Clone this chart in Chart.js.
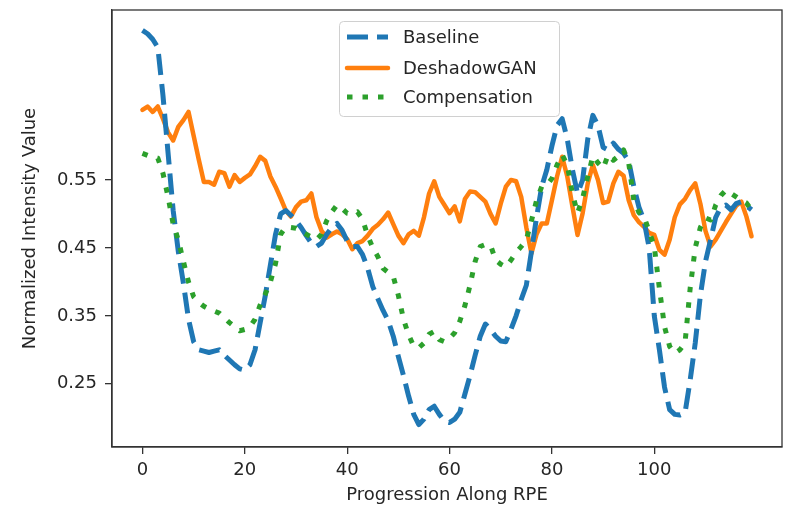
<!DOCTYPE html>
<html>
<head>
<meta charset="utf-8">
<script src="https://cdn.jsdelivr.net/npm/chart.js"></script>
<style>
  html, body { margin: 0; padding: 0; background: #fff; }
</style>
</head>
<body>
<canvas id="myChart" width="785" height="512"></canvas>
<script>
// x positions along the RPE (one per sample)
const positions = Array.from({ length: 120 }, (_, i) => i);

const baseline = [
  0.770, 0.765, 0.757, 0.745, 0.675, 0.590, 0.505, 0.445, 0.398, 0.345,
  0.312, 0.300, 0.298, 0.296, 0.298, 0.300, 0.292, 0.285, 0.278, 0.272,
  0.270, 0.278, 0.300, 0.340, 0.380, 0.425, 0.470, 0.500, 0.505, 0.498,
  0.490, 0.480, 0.468, 0.457, 0.452, 0.457, 0.470, 0.480, 0.486, 0.476,
  0.460, 0.452, 0.452, 0.440, 0.420, 0.393, 0.375, 0.358, 0.343, 0.320,
  0.290, 0.262, 0.232, 0.205, 0.190, 0.198, 0.212, 0.217, 0.205, 0.195,
  0.193, 0.198, 0.208, 0.235, 0.262, 0.292, 0.320, 0.338, 0.330, 0.320,
  0.313, 0.312, 0.330, 0.350, 0.374, 0.395, 0.445, 0.495, 0.540, 0.565,
  0.600, 0.630, 0.640, 0.610, 0.565, 0.530, 0.550, 0.610, 0.645, 0.630,
  0.598, 0.594, 0.604, 0.595, 0.589, 0.578, 0.540, 0.510, 0.490, 0.450,
  0.350, 0.300, 0.245, 0.212, 0.205, 0.204, 0.207, 0.255, 0.310, 0.380,
  0.430, 0.462, 0.495, 0.510, 0.513, 0.506, 0.515, 0.518, 0.512, 0.506
];

const deshadowGAN = [
  0.653, 0.658, 0.650, 0.658, 0.640, 0.620, 0.608, 0.628, 0.638, 0.650,
  0.615, 0.580, 0.547, 0.547, 0.543, 0.562, 0.560, 0.540, 0.557, 0.547,
  0.553, 0.558, 0.570, 0.584, 0.578, 0.555, 0.540, 0.523, 0.505, 0.496,
  0.510, 0.518, 0.520, 0.530, 0.495, 0.475, 0.465, 0.470, 0.474, 0.470,
  0.463, 0.448, 0.457, 0.460, 0.468, 0.478, 0.484, 0.492, 0.502, 0.485,
  0.468, 0.457, 0.470, 0.475, 0.468, 0.495, 0.530, 0.548, 0.525, 0.513,
  0.501, 0.511, 0.489, 0.522, 0.533, 0.532, 0.525, 0.518, 0.500, 0.486,
  0.515, 0.540, 0.550, 0.548, 0.525, 0.480, 0.442, 0.470, 0.486, 0.486,
  0.520, 0.555, 0.584, 0.555, 0.511, 0.469, 0.501, 0.545, 0.572, 0.550,
  0.516, 0.518, 0.545, 0.562, 0.556, 0.520, 0.498, 0.488, 0.481, 0.472,
  0.469, 0.447, 0.440, 0.462, 0.495, 0.514, 0.522, 0.535, 0.545, 0.515,
  0.475, 0.452, 0.462, 0.475, 0.488, 0.500, 0.512, 0.518, 0.496, 0.467
];

const compensation = [
  0.589, 0.586, 0.584, 0.582, 0.560, 0.525, 0.485, 0.462, 0.430, 0.400,
  0.378, 0.370, 0.364, 0.360, 0.357, 0.354, 0.347, 0.340, 0.334, 0.328,
  0.330, 0.334, 0.345, 0.366, 0.382, 0.400, 0.427, 0.470, 0.481, 0.480,
  0.479, 0.474, 0.470, 0.466, 0.462, 0.470, 0.490, 0.503, 0.513, 0.508,
  0.501, 0.500, 0.503, 0.492, 0.468, 0.450, 0.437, 0.420, 0.414, 0.408,
  0.380, 0.345, 0.322, 0.305, 0.303, 0.310, 0.323, 0.327, 0.315, 0.312,
  0.317, 0.325, 0.342, 0.365, 0.395, 0.430, 0.452, 0.455, 0.454, 0.432,
  0.426, 0.422, 0.432, 0.443, 0.452, 0.462, 0.490, 0.520, 0.540, 0.542,
  0.552, 0.572, 0.587, 0.572, 0.530, 0.501, 0.523, 0.555, 0.585, 0.575,
  0.567, 0.587, 0.579, 0.585, 0.594, 0.575, 0.520, 0.502, 0.496, 0.474,
  0.452, 0.390, 0.334, 0.305, 0.295, 0.300, 0.310, 0.390, 0.450, 0.480,
  0.494, 0.491, 0.513, 0.527, 0.535, 0.530, 0.525, 0.520, 0.516, 0.506
];

const xTicks = [0, 20, 40, 60, 80, 100];
const yTicks = [0.25, 0.35, 0.45, 0.55];
const yTickLabels = ['0.25', '0.35', '0.45', '0.55'];

const FONT = 'DejaVu Sans';
const INK = '#262626';

const toPoints = (vals) => vals.map((v, i) => ({ x: positions[i], y: v }));

const datasets = [
  {
    label: 'Baseline',
    data: toPoints(baseline),
    borderColor: '#1f77b4',
    borderWidth: 5,
    borderDash: [21, 9],
    borderCapStyle: 'butt',
    order: 1
  },
  {
    label: 'DeshadowGAN',
    data: toPoints(deshadowGAN),
    borderColor: '#ff7f0e',
    borderWidth: 4.5,
    borderCapStyle: 'round',
    order: 2
  },
  {
    label: 'Compensation',
    data: toPoints(compensation),
    borderColor: '#2ca02c',
    borderWidth: 5,
    borderDash: [5.5, 10],
    borderCapStyle: 'butt',
    order: 0
  }
];
datasets.forEach(d => {
  d.pointRadius = 0;
  d.tension = 0;
  d.fill = false;
  d.borderJoinStyle = 'round';
});

// full box frame + matplotlib-like legend
const framePlugin = {
  id: 'frame',
  afterDatasetsDraw(chart) {
    const { ctx, chartArea: a } = chart;
    ctx.save();
    ctx.strokeStyle = '#333';
    ctx.lineWidth = 1.3;
    ctx.strokeRect(a.left, a.top, a.right - a.left, a.bottom - a.top);
    ctx.restore();
  }
};

const legendPlugin = {
  id: 'mplLegend',
  afterDraw(chart) {
    const { ctx } = chart;
    const box = { x: 339.5, y: 21.5, w: 220, h: 95 };
    ctx.save();
    ctx.beginPath();
    ctx.roundRect(box.x, box.y, box.w, box.h, 4);
    ctx.fillStyle = 'rgba(255,255,255,0.85)';
    ctx.fill();
    ctx.strokeStyle = '#d0d0d0';
    ctx.lineWidth = 1;
    ctx.stroke();

    const rows = [37, 68, 97];
    chart.data.datasets.forEach((ds, i) => {
      const y = rows[i];
      ctx.beginPath();
      ctx.strokeStyle = ds.borderColor;
      ctx.lineWidth = ds.borderWidth;
      ctx.lineCap = ds.borderCapStyle;
      ctx.setLineDash(ds.borderDash || []);
      ctx.moveTo(347, y);
      ctx.lineTo(388, y);
      ctx.stroke();
      ctx.setLineDash([]);
      ctx.fillStyle = INK;
      ctx.font = '18px "' + FONT + '"';
      ctx.textBaseline = 'middle';
      ctx.textAlign = 'left';
      ctx.fillText(ds.label, 403, y + 1);
    });
    ctx.restore();
  }
};

const ctx = document.getElementById('myChart').getContext('2d');
new Chart(ctx, {
  type: 'line',
  data: { datasets },
  plugins: [framePlugin, legendPlugin],
  options: {
    responsive: false,
    animation: false,
    devicePixelRatio: 1,
    layout: { padding: { left: 0, right: 3, top: 10, bottom: 0 } },
    plugins: {
      legend: { display: false },
      tooltip: { enabled: false }
    },
    scales: {
      x: {
        type: 'linear',
        min: -5.95,
        max: 124.95,
        afterBuildTicks: (scale) => { scale.ticks = xTicks.map(v => ({ value: v })); },
        afterFit: (scale) => { scale.height = 65; scale.paddingLeft = 0; scale.paddingRight = 0; },
        ticks: {
          color: INK,
          font: { family: FONT, size: 18 },
          padding: 6,
          maxRotation: 0,
          callback: (v) => String(v)
        },
        grid: { drawOnChartArea: false, drawTicks: true, tickLength: 7, color: '#333', lineWidth: 1.3 },
        border: { display: true, color: '#333', width: 1.3 },
        title: {
          display: true,
          text: 'Progression Along RPE',
          color: INK,
          font: { family: FONT, size: 18 },
          padding: { top: 0, bottom: 6 }
        }
      },
      y: {
        type: 'linear',
        min: 0.157,
        max: 0.800,
        afterBuildTicks: (scale) => { scale.ticks = yTicks.map(v => ({ value: v })); },
        afterFit: (scale) => { scale.width = 112; scale.paddingTop = 0; scale.paddingBottom = 0; },
        ticks: {
          color: INK,
          font: { family: FONT, size: 18 },
          padding: 8,
          callback: (v) => yTickLabels[yTicks.indexOf(v)]
        },
        grid: { drawOnChartArea: false, drawTicks: true, tickLength: 7, color: '#333', lineWidth: 1.3 },
        border: { display: true, color: '#333', width: 1.3 },
        title: {
          display: true,
          text: 'Normalized Intensity Value',
          color: INK,
          font: { family: FONT, size: 18 },
          padding: { top: 20, bottom: 0 }
        }
      }
    }
  }
});
</script>
</body>
</html>
